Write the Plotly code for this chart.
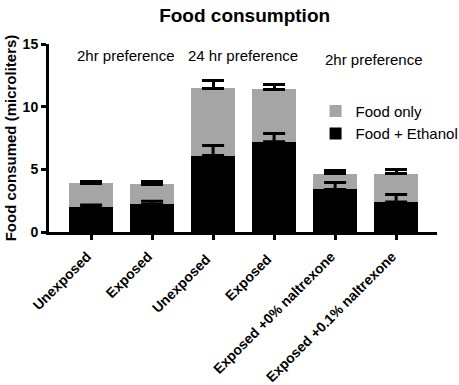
import plotly.graph_objects as go

categories = ["Unexposed", "Exposed", "Unexposed ", "Exposed ",
              "Exposed +0% naltrexone", "Exposed +0.1% naltrexone"]
food_ethanol = [2.0, 2.2, 6.1, 7.2, 3.4, 2.4]
food_ethanol_err = [0.15, 0.25, 0.8, 0.65, 0.55, 0.6]
food_total = [3.9, 3.8, 11.45, 11.4, 4.65, 4.65]
food_total_err = [0.1, 0.2, 0.6, 0.4, 0.25, 0.35]
food_only = [t - e for t, e in zip(food_total, food_ethanol)]
group_labels = ["2hr preference", "24 hr preference", "2hr preference"]
group_x = [0.57, 2.49, 4.64]
group_y = [14.1, 14.1, 13.8]

FONT = "Arial, Liberation Sans, sans-serif"
GRAY = "#a5a5a5"

fig = go.Figure()
fig.add_trace(go.Bar(x=categories, y=food_ethanol, name="Food + Ethanol",
                     marker=dict(color="black", line=dict(width=0)), width=0.72))
fig.add_trace(go.Bar(x=categories, y=food_only, name="Food only",
                     marker=dict(color=GRAY, line=dict(width=0)), width=0.72,
                     error_y=dict(type="data", symmetric=False, array=food_total_err,
                                  arrayminus=[0] * 6, color="black", thickness=3, width=11)))
fig.add_trace(go.Scatter(x=categories, y=food_ethanol, mode="markers",
                         marker=dict(opacity=0, size=1), showlegend=False, hoverinfo="skip",
                         error_y=dict(type="data", symmetric=False, array=food_ethanol_err,
                                      arrayminus=[0] * 6, color="black", thickness=3, width=11)))

for lbl, gx, gy in zip(group_labels, group_x, group_y):
    fig.add_annotation(x=gx, y=gy, text=lbl, showarrow=False, xref="x", yref="y",
                       font=dict(family=FONT, size=15, color="black"))

fig.update_layout(
    width=459, height=385,
    margin=dict(l=49, r=22, t=44, b=153, autoexpand=False),
    barmode="stack",
    plot_bgcolor="white", paper_bgcolor="white",
    title=dict(text="<b>Food consumption</b>", x=0.533, xanchor="center", y=0.961, yanchor="middle",
               font=dict(family=FONT, size=19, color="black")),
    legend=dict(x=0.687, y=0.73, xanchor="left", yanchor="top", bgcolor="rgba(0,0,0,0)",
                font=dict(family=FONT, size=15, color="black"), tracegroupgap=0),
    xaxis=dict(range=[-0.69, 5.67], showline=True, linecolor="black", linewidth=3,
               ticks="outside", ticklen=5, tickwidth=3, tickcolor="black",
               tickangle=-45, showgrid=False, zeroline=False, automargin=False,
               ticklabelstandoff=3, ticklabelshift=-4,
               tickfont=dict(family=FONT, size=14, color="black", weight="bold")),
    yaxis=dict(range=[0, 15], tickvals=[0, 5, 10, 15], showline=True, linecolor="black",
               linewidth=3, ticks="outside", ticklen=5, tickwidth=3, tickcolor="black",
               showgrid=False, zeroline=False, automargin=False,
               tickfont=dict(family=FONT, size=14, color="black", weight="bold"),
               title=dict(text="<b>Food consumed (microliters)</b>", standoff=3,
                          font=dict(family=FONT, size=15, color="black"))),
)

fig.write_html("out.html", config={"displayModeBar": False},
               post_script="document.body.style.margin='0';")
